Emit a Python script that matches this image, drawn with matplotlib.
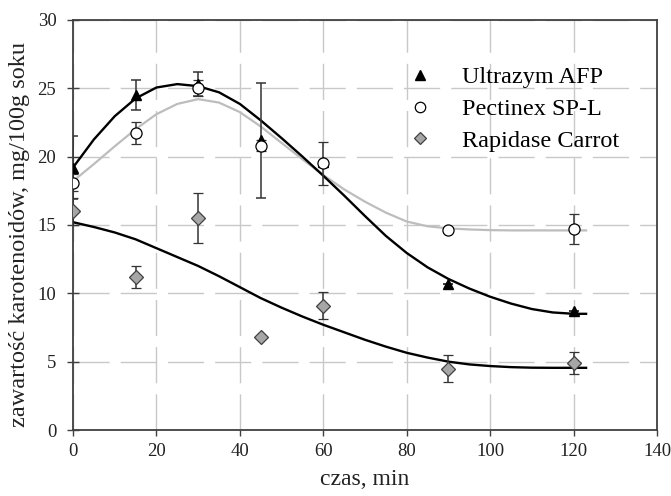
import numpy as np
import matplotlib
matplotlib.use("Agg")
import matplotlib.pyplot as plt
from matplotlib.lines import Line2D

plt.rcParams['font.family'] = ['Liberation Serif', 'DejaVu Serif']

# punkty pomiarowe
czas = [0, 15, 30, 45, 60, 90, 120]
ultrazym = [19.2, 24.5, 25.3, 21.2, 19.6, 10.7, 8.7]
ultrazym_err = [2.3, 1.1, 0.9, 4.2, 0, 0, 0]
pectinex = [18.1, 21.7, 25.0, 20.8, 19.5, 14.6, 14.7]
pectinex_err = [0.6, 0.8, 0.6, 0.4, 1.6, 0, 1.1]
rapidase = [16.0, 11.2, 15.5, 6.8, 9.1, 4.5, 4.9]
rapidase_err = [1.0, 0.8, 1.8, 0, 1.0, 1.0, 0.8]

# krzywe dopasowania
t_fit = [0, 5, 10, 15, 20, 25, 30, 35, 40, 45, 50, 55, 60, 65, 70, 75, 80,
         85, 90, 95, 100, 105, 110, 115, 120, 123]
ultrazym_fit = [19.2, 21.25, 22.95, 24.25, 25.05, 25.3, 25.15, 24.7, 23.85,
                22.65, 21.35, 20.0, 18.6, 17.15, 15.65, 14.2, 12.95, 11.9,
                11.05, 10.35, 9.75, 9.25, 8.85, 8.6, 8.5, 8.5]
pectinex_fit = [18.2, 19.45, 20.75, 22.0, 23.1, 23.85, 24.2, 23.95, 23.25,
                22.2, 21.0, 19.8, 18.65, 17.6, 16.7, 15.9, 15.25, 14.9, 14.75,
                14.67, 14.62, 14.6, 14.6, 14.6, 14.6, 14.6]
rapidase_fit = [15.2, 14.85, 14.45, 13.95, 13.3, 12.65, 12.0, 11.25, 10.45,
                9.65, 8.95, 8.3, 7.7, 7.15, 6.6, 6.1, 5.65, 5.3, 5.0, 4.8,
                4.68, 4.6, 4.56, 4.55, 4.55, 4.55]

fig = plt.figure(figsize=(6.71, 4.96), dpi=100)
ax = fig.add_axes([0.1088, 0.133, 0.8703, 0.827])

ax.plot(t_fit, ultrazym_fit, color='black', lw=1.7, zorder=3)
ax.plot(t_fit, pectinex_fit, color='#bdbdbd', lw=1.6, zorder=2)
ax.plot(t_fit, rapidase_fit, color='black', lw=1.7, zorder=3)

eb = dict(ecolor='#333333', elinewidth=1.1, capsize=3.6, capthick=1.1, ls='none', zorder=4)
ax.errorbar(czas, rapidase, yerr=rapidase_err, fmt='D', ms=7, mfc='#a6a6a6',
            mec='#404040', mew=0.9, **eb)
ax.errorbar(czas, ultrazym, yerr=ultrazym_err, fmt='^', ms=7.5, mfc='black',
            mec='black', **eb)
ax.errorbar(czas, pectinex, yerr=pectinex_err, fmt='o', ms=8, mfc='white',
            mec='black', mew=0.9, **eb)

ax.set_xlim(0, 140)
ax.set_ylim(0, 30)
ax.set_xticks(np.arange(0, 141, 20))
ax.set_yticks(np.arange(0, 31, 5))
ax.grid(True, color='#c8c8c8', lw=1.0, ls=(0, (26, 8)))
ax.set_axisbelow(True)
for s in ax.spines.values():
    s.set_color('#404040')
    s.set_linewidth(1.3)
ax.tick_params(axis='y', direction='inout', length=8, width=1, pad=8,
               labelsize=13.5, colors='#404040', labelcolor='#222222')
ax.tick_params(axis='x', direction='out', length=4, width=1, pad=5,
               labelsize=13.5, colors='#404040', labelcolor='#222222')

ax.set_xlabel('czas, min', fontsize=17, color='#222222', labelpad=7)
ax.set_ylabel('zawartość karotenoidów, mg/100g soku', fontsize=17.5,
              color='#222222')
ax.yaxis.set_label_coords(-0.074, 0.476)

handles = [
    Line2D([], [], ls='none', marker='^', ms=7.5, mfc='black', mec='black'),
    Line2D([], [], ls='none', marker='o', ms=7.5, mfc='white', mec='black', mew=0.9),
    Line2D([], [], ls='none', marker='D', ms=6.5, mfc='#a6a6a6', mec='#404040', mew=0.9),
]
labels = ['Ultrazym AFP', 'Pectinex SP-L', 'Rapidase Carrot']
ax.legend(handles, labels, loc='upper left', bbox_to_anchor=(0.590, 0.866),
          bbox_transform=fig.transFigure, frameon=False, fontsize=17.5,
          borderpad=0, borderaxespad=0, handlelength=2, handletextpad=0.73,
          labelspacing=0.4)

fig.savefig('out.png', dpi=100)
